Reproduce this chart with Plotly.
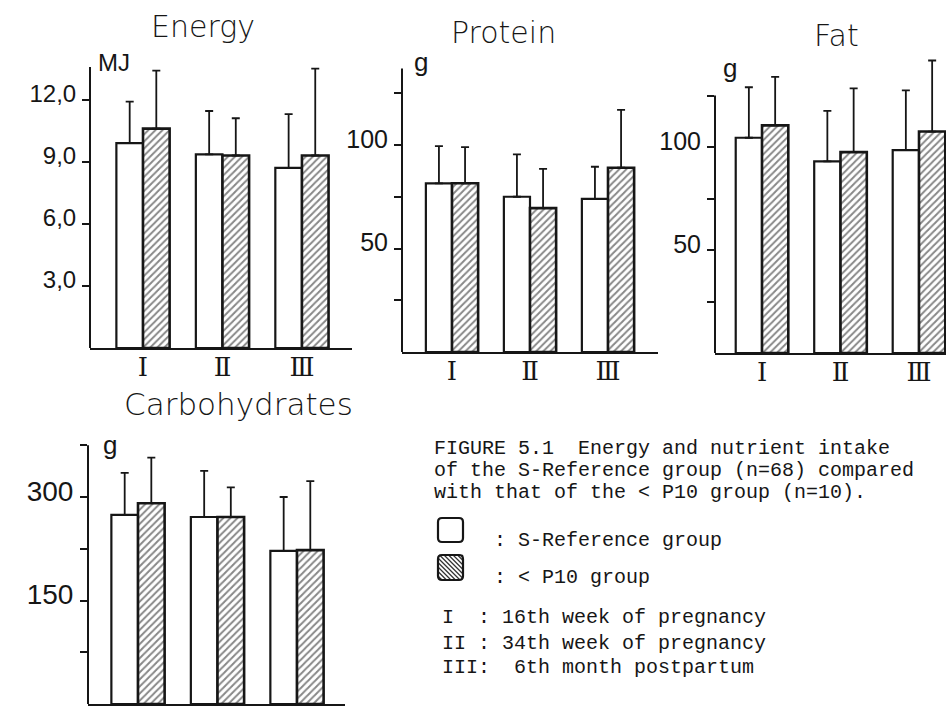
import plotly.graph_objects as go

W, H = 946, 707

# ---------------- data ----------------
periods = ["I", "II", "III"]
period_labels = ["Ⅰ", "Ⅱ", "Ⅲ"]

energy_ref = [9.9, 9.35, 8.7]
energy_ref_sd = [2.0, 2.1, 2.6]
energy_p10 = [10.6, 9.3, 9.3]
energy_p10_sd = [2.8, 1.8, 4.2]

protein_ref = [81.5, 75.0, 74.0]
protein_ref_sd = [18.0, 20.5, 15.5]
protein_p10 = [81.5, 69.5, 89.0]
protein_p10_sd = [17.5, 19.0, 28.0]

fat_ref = [104.5, 93.0, 98.5]
fat_ref_sd = [24.5, 24.5, 29.0]
fat_p10 = [110.5, 97.5, 107.5]
fat_p10_sd = [23.5, 31.0, 34.5]

carb_ref = [274, 271, 222]
carb_ref_sd = [61, 67, 78]
carb_p10 = [291, 271, 223]
carb_p10_sd = [66, 43, 100]

energy_ticks = [3, 6, 9, 12]
energy_ticktext = ["3,0", "6,0", "9,0", "12,0"]
protein_ticks = [25, 50, 75, 100, 125]
protein_ticktext = ["", "50", "", "100", ""]
fat_ticks = [25, 50, 75, 100, 125]
fat_ticktext = ["", "50", "", "100", ""]
carb_ticks = [75, 150, 225, 300, 375]
carb_ticktext = ["", "150", "", "300", ""]

caption_lines = [
    "FIGURE 5.1  Energy and nutrient intake",
    "of the S-Reference group (n=68) compared",
    "with that of the < P10 group (n=10).",
]
legend_ref = ": S-Reference group"
legend_p10 = ": < P10 group"
period_lines = [
    "I  : 16th week of pregnancy",
    "II : 34th week of pregnancy",
    "III:  6th month postpartum",
]

# ---------------- layout helpers ----------------
def px(x):
    return x / W

def py(y):
    return 1 - y / H

INK = "#161616"

panels = [
    dict(title="Energy", unit="MJ", ref=energy_ref, ref_sd=energy_ref_sd,
         p10=energy_p10, p10_sd=energy_p10_sd, ticks=energy_ticks, ticktext=energy_ticktext,
         x0=90, x1=352, base=348, top=40, scale=20.7, xr=[-0.667, 2.63], axis_top=13.57,
         tfont=24, title_xy=(203, 26), title_size=30, unit_xy=(96, 63), unit_size=24,
         show_x=True),
    dict(title="Protein", unit="g", ref=protein_ref, ref_sd=protein_ref_sd,
         p10=protein_p10, p10_sd=protein_p10_sd, ticks=protein_ticks, ticktext=protein_ticktext,
         x0=402, x1=658, base=352, top=40, scale=2.07, xr=[-0.641, 2.641], axis_top=137,
         tfont=25, title_xy=(503, 33), title_size=30, unit_xy=(412, 62), unit_size=26,
         show_x=True),
    dict(title="Fat", unit="g", ref=fat_ref, ref_sd=fat_ref_sd,
         p10=fat_p10, p10_sd=fat_p10_sd, ticks=fat_ticks, ticktext=fat_ticktext,
         x0=715, x1=946, base=353, top=40, scale=2.06, xr=[-0.599, 2.344], axis_top=125,
         tfont=25, title_xy=(836, 35), title_size=30, unit_xy=(721, 68), unit_size=26,
         show_x=True),
    dict(title="Carbohydrates", unit="g", ref=carb_ref, ref_sd=carb_ref_sd,
         p10=carb_p10, p10_sd=carb_p10_sd, ticks=carb_ticks, ticktext=carb_ticktext,
         x0=88, x1=345, base=704, top=420, scale=0.69, xr=[-0.629, 2.604], axis_top=375,
         tfont=28, title_xy=(238, 404), title_size=31, unit_xy=(101, 445), unit_size=26,
         show_x=False),
]

fig = go.Figure()
layout = dict(
    width=W, height=H, margin=dict(l=0, r=0, t=0, b=0, autoexpand=False),
    paper_bgcolor="white", plot_bgcolor="rgba(0,0,0,0)",
    barmode="group", bargap=0.33, bargroupgap=0.0, showlegend=False,
    font=dict(family="Liberation Sans, Arial, sans-serif", color=INK),
)
shapes = []
annotations = []

for i, p in enumerate(panels, start=1):
    xa = "x" if i == 1 else f"x{i}"
    ya = "y" if i == 1 else f"y{i}"
    xkey = "xaxis" if i == 1 else f"xaxis{i}"
    ykey = "yaxis" if i == 1 else f"yaxis{i}"
    ymax = (p["base"] - p["top"]) / p["scale"]

    fig.add_trace(go.Bar(
        x=periods, y=p["ref"], xaxis=xa, yaxis=ya, name="S-Reference group",
        marker=dict(color="white", line=dict(color=INK, width=2.2)),
        error_y=dict(type="data", symmetric=False, array=p["ref_sd"],
                     arrayminus=[0] * len(p["ref"]), color=INK, thickness=1.8, width=4),
    ))
    fig.add_trace(go.Bar(
        x=periods, y=p["p10"], xaxis=xa, yaxis=ya, name="< P10 group",
        marker=dict(color="white", line=dict(color=INK, width=2.6),
                    pattern=dict(shape="/", fgcolor="#111", bgcolor="white",
                                 size=5, solidity=0.4)),
        error_y=dict(type="data", symmetric=False, array=p["p10_sd"],
                     arrayminus=[0] * len(p["p10"]), color=INK, thickness=1.8, width=4),
    ))

    layout[xkey] = dict(
        domain=[px(p["x0"]), px(p["x1"])], anchor=ya, range=p["xr"],
        type="category", categoryorder="array", categoryarray=periods,
        tickmode="array", tickvals=periods, ticktext=period_labels,
        showticklabels=p["show_x"], ticklabelstandoff=-5,
        tickfont=dict(family="DejaVu Serif", size=26, color=INK),
        showline=True, linecolor=INK, linewidth=2, ticks="", showgrid=False,
        zeroline=False, fixedrange=True, automargin=False,
    )
    layout[ykey] = dict(
        domain=[py(p["base"]), py(p["top"])], anchor=xa, range=[0, ymax],
        tickmode="array", tickvals=p["ticks"], ticktext=p["ticktext"],
        tickfont=dict(family="Liberation Sans, Arial, sans-serif", size=p["tfont"], color=INK),
        ticks="outside", ticklen=7, tickwidth=2, tickcolor=INK,
        ticklabelshift=-6, ticklabelstandoff=1,
        showline=False, showgrid=False, zeroline=False, fixedrange=True, automargin=False,
    )
    xdom = "x domain" if i == 1 else f"x{i} domain"
    shapes.append(dict(type="line", xref=xdom, yref=ya, x0=0, x1=0, y0=0,
                       y1=p["axis_top"], line=dict(color=INK, width=2)))

    tx, ty = p["title_xy"]
    annotations.append(dict(text=p["title"], xref="paper", yref="paper",
                            x=px(tx), y=py(ty), xanchor="center", yanchor="middle",
                            showarrow=False,
                            font=dict(family="DejaVu Sans", size=p["title_size"], color=INK, weight=300)))
    ux, uy = p["unit_xy"]
    annotations.append(dict(text=p["unit"], xref="paper", yref="paper",
                            x=px(ux), y=py(uy), xanchor="left", yanchor="middle",
                            showarrow=False,
                            font=dict(family="Liberation Sans, Arial, sans-serif", size=p["unit_size"], color=INK)))

# ---------------- caption / key ----------------
mono = dict(family="Liberation Mono, Courier New, monospace", size=20, color=INK)
for line, yy in zip(caption_lines, [448, 470, 492]):
    annotations.append(dict(text=line, xref="paper", yref="paper", x=px(432), y=py(yy),
                            xanchor="left", yanchor="middle", showarrow=False, font=mono))
annotations.append(dict(text=legend_ref, xref="paper", yref="paper", x=px(492), y=py(540),
                        xanchor="left", yanchor="middle", showarrow=False, font=mono))
annotations.append(dict(text=legend_p10, xref="paper", yref="paper", x=px(492), y=py(577),
                        xanchor="left", yanchor="middle", showarrow=False, font=mono))
for line, yy in zip(period_lines, [617, 643, 667]):
    annotations.append(dict(text=line, xref="paper", yref="paper", x=px(440), y=py(yy),
                            xanchor="left", yanchor="middle", showarrow=False, font=mono))


def rounded_box(x0, y0, x1, y1, r):
    pts = (f"M {px(x0 + r)},{py(y0)} L {px(x1 - r)},{py(y0)} Q {px(x1)},{py(y0)} {px(x1)},{py(y0 + r)} "
           f"L {px(x1)},{py(y1 - r)} Q {px(x1)},{py(y1)} {px(x1 - r)},{py(y1)} "
           f"L {px(x0 + r)},{py(y1)} Q {px(x0)},{py(y1)} {px(x0)},{py(y1 - r)} "
           f"L {px(x0)},{py(y0 + r)} Q {px(x0)},{py(y0)} {px(x0 + r)},{py(y0)} Z")
    return pts

# key box 1 (plain)
shapes.append(dict(type="path", xref="paper", yref="paper", path=rounded_box(438, 518, 463, 542, 4),
                   line=dict(color=INK, width=2.2), fillcolor="white"))
# key box 2 (hatched)
bx0, by0, bx1, by1 = 438, 555, 463, 580
w, h = bx1 - bx0, by1 - by0
c = 4
while c < w + h:
    u0 = max(0, c - h)
    u1 = min(w, c)
    if u1 > u0:
        shapes.append(dict(type="line", xref="paper", yref="paper",
                           x0=px(bx0 + u0), y0=py(by1 - (c - u0)),
                           x1=px(bx0 + u1), y1=py(by1 - (c - u1)),
                           line=dict(color="#333", width=1.2)))
    c += 4.5
shapes.append(dict(type="path", xref="paper", yref="paper", path=rounded_box(bx0, by0, bx1, by1, 4),
                   line=dict(color=INK, width=2.2)))

layout["shapes"] = shapes
layout["annotations"] = annotations
fig.update_layout(**layout)

fig.write_html("out.html")
